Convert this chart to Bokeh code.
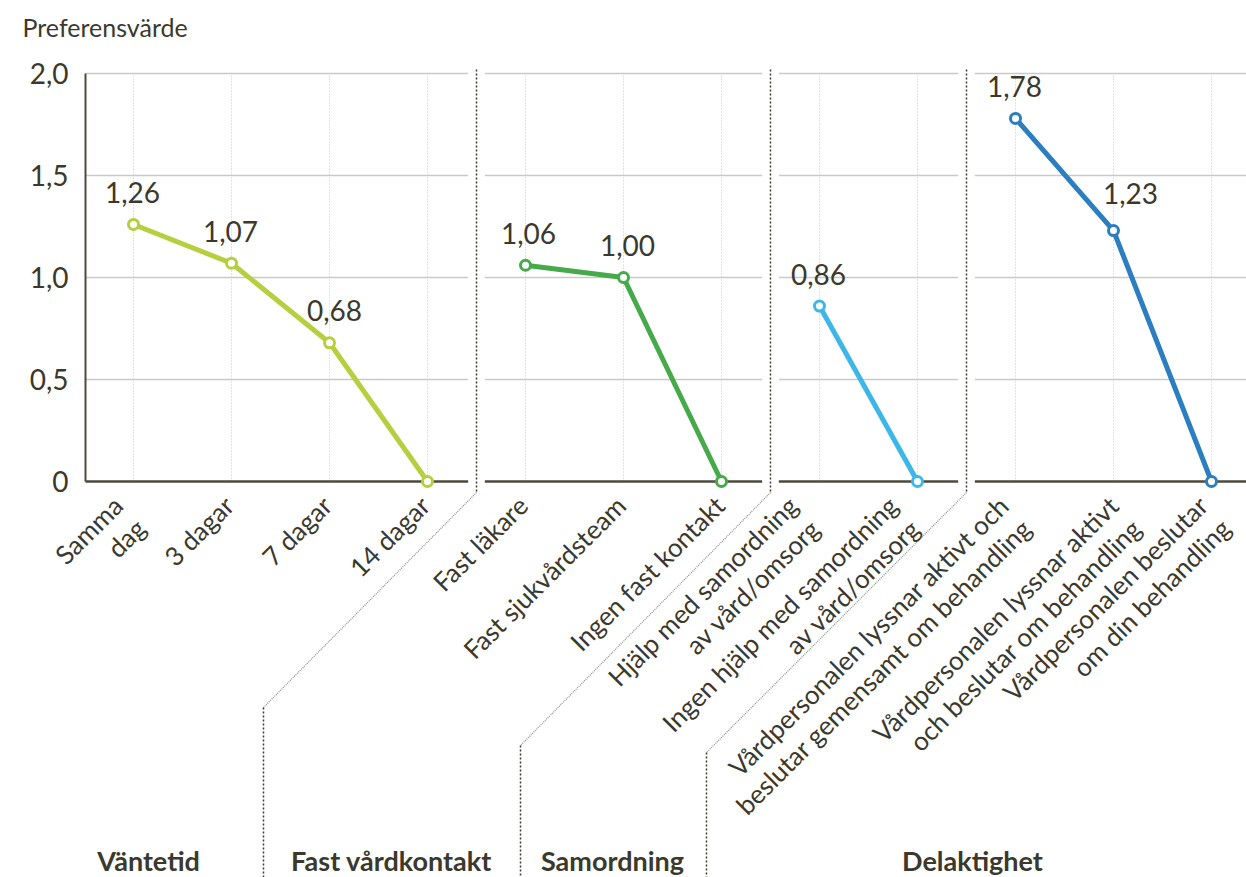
import math
from bokeh.plotting import figure
from bokeh.models import Range1d, ColumnDataSource
from bokeh.core.properties import value
from bokeh.embed import file_html
from bokeh.resources import INLINE

# ---------------- data ----------------
categories = [
    "Samma\ndag", "3 dagar", "7 dagar", "14 dagar",
    "Fast läkare", "Fast sjukvårdsteam", "Ingen fast kontakt",
    "Hjälp med samordning\nav vård/omsorg", "Ingen hjälp med samordning\nav vård/omsorg",
    "Vårdpersonalen lyssnar aktivt och\nbeslutar gemensamt om behandling",
    "Vårdpersonalen lyssnar aktivt\noch beslutar om behandling",
    "Vårdpersonalen beslutar\nom din behandling",
]
group_names = ["Väntetid", "Fast vårdkontakt", "Samordning", "Delaktighet"]
group_sizes = [4, 3, 2, 3]
values = [1.26, 1.07, 0.68, 0.0, 1.06, 1.00, 0.0, 0.86, 0.0, 1.78, 1.23, 0.0]
value_labels = ["1,26", "1,07", "0,68", "", "1,06", "1,00", "", "0,86", "", "1,78", "1,23", ""]
y_ticks = [0, 0.5, 1.0, 1.5, 2.0]
y_tick_labels = ["0", "0,5", "1,0", "1,5", "2,0"]
y_title = "Preferensvärde"
group_colors = ["#b5cf3e", "#46a94a", "#3db6e8", "#2b7fc0"]

# ---------------- layout / style ----------------
FONT = "Lato"
TXT = "#3b392d"
GRID = "#c9c9c9"
BASE = "#4d4a3c"
SEP = "#3a3830"

PXX = 98.0     # pixels per category step
PXY = 204.0    # pixels per y unit
X0, X1 = -133 / PXX, (1246 - 133) / PXX
Y1, Y0 = 2 + 73 / PXY, -(877 - 481) / PXY
AXIS_X = (85 - 133) / PXX

p = figure(width=1246, height=877, x_range=Range1d(X0, X1), y_range=Range1d(Y0, Y1),
           output_backend="svg", toolbar_location=None,
           x_axis_location=None, y_axis_location=None,
           min_border=0)
p.outline_line_color = None
p.grid.visible = False
p.background_fill_color = "white"
p.border_fill_color = "white"

# group boundaries
n = len(categories)
xs = list(range(n))
starts, ends = [], []
acc = 0
for s in group_sizes:
    starts.append(acc)
    ends.append(acc + s - 1)
    acc += s
bounds = [e + 0.5 for e in ends[:-1]]
gap = 0.085
seg_l = [AXIS_X] + [b + gap for b in bounds]
seg_r = [b - gap for b in bounds] + [X1]

# horizontal grid lines (broken at separators)
for t in y_ticks[1:]:
    p.segment(x0=seg_l, x1=seg_r, y0=[t] * len(seg_l), y1=[t] * len(seg_l),
              line_color=GRID, line_width=1.5)
# vertical dotted grid
p.segment(x0=xs, x1=xs, y0=[0] * n, y1=[y_ticks[-1]] * n, line_color="#c4c4c4",
          line_width=1, line_dash="1 2")
# baseline
p.segment(x0=seg_l, x1=seg_r, y0=[0] * len(seg_l), y1=[0] * len(seg_l),
          line_color=BASE, line_width=2.5)
# y axis line
p.segment(x0=[AXIS_X], x1=[AXIS_X], y0=[0], y1=[y_ticks[-1]], line_color=BASE, line_width=2)

# y tick labels and title
p.text(x=[(68 - 133) / PXX] * len(y_ticks), y=y_ticks, text=y_tick_labels,
       text_align="right", text_baseline="middle",
       text_font=value(FONT), text_font_size="28px", text_color=TXT)
p.text(x=[(22 - 133) / PXX], y=[2 + (73 - 26) / PXY], text=[y_title],
       text_align="left", text_baseline="middle",
       text_font=value(FONT), text_font_size="25px", text_color=TXT)

# separators (vertical dotted + diagonal down to group label area)
sep_bottom_x = [(263 - 133) / PXX, (520 - 133) / PXX, (706 - 133) / PXX]
sep_bottom_y = [-(707 - 481) / PXY, -(745 - 481) / PXY, -(752 - 481) / PXY]
sep_top = 2 + 4 / PXY
sep_mid = -11 / PXY
for b, bx, by in zip(bounds, sep_bottom_x, sep_bottom_y):
    p.line([b, b], [sep_top, sep_mid], line_color=SEP, line_width=1.5, line_dash="2 2")
    p.line([b, bx], [sep_mid, by], line_color="#8d8d88", line_width=1.2, line_dash="1 1")
    p.line([bx, bx], [by, Y0], line_color=SEP, line_width=1.5, line_dash="2 2")

# series lines + markers
for gi in range(len(group_sizes)):
    gx = xs[starts[gi]:ends[gi] + 1]
    gy = values[starts[gi]:ends[gi] + 1]
    c = group_colors[gi]
    p.line(gx, gy, line_color=c, line_width=5)
    p.scatter(gx, gy, size=10, marker="circle", fill_color="white", line_color=c, line_width=3)

# value labels
nudge_x = {2: 5, 4: 3, 5: 4, 10: 17}
nudge_y = {10: -5}
src = ColumnDataSource(dict(
    x=xs, y=values, t=value_labels,
    xo=[nudge_x.get(i, -1) for i in range(n)],
    yo=[-32 + nudge_y.get(i, 0) for i in range(n)],
))
p.text(x="x", y="y", text="t", source=src, x_offset="xo", y_offset="yo",
       text_align="center", text_baseline="middle",
       text_font=value(FONT), text_font_size="28px", text_color=TXT)

# rotated category labels (anchored at the top-right corner of the text block)
label_nudge = [-16, -3, -3, -3, -3, -3, -2, -27, -25, -12, 0, -9]
csrc = ColumnDataSource(dict(
    x=xs, y=[0] * n, t=categories,
    xo=[d - 11 for d in label_nudge],
))
p.text(x="x", y="y", text="t", source=csrc, angle=math.pi / 4,
       x_offset="xo", y_offset=8, text_align="right", text_baseline="top",
       text_font=value(FONT), text_font_size="26px", text_color=TXT,
       text_line_height=1.0)

# group labels
group_label_x = [(148 - 133) / PXX, (391 - 133) / PXX, (612 - 133) / PXX, (972 - 133) / PXX]
p.text(x=group_label_x, y=[-(860 - 481) / PXY] * len(group_names), text=group_names,
       text_align="center", text_baseline="middle",
       text_font=value(FONT), text_font_size="27px", text_font_style="bold",
       text_color=TXT)

open("out.html", "w").write(file_html(p, INLINE))
